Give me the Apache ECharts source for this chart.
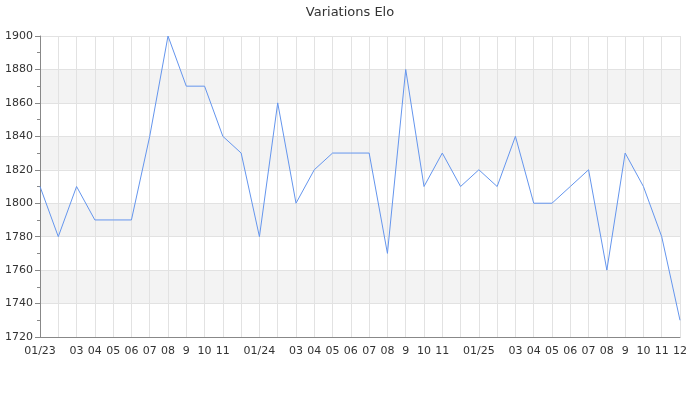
<!DOCTYPE html>
<html>
<head>
<meta charset="utf-8">
<script src="https://cdn.jsdelivr.net/npm/echarts@6/dist/echarts.min.js"></script>
<style>html,body{margin:0;padding:0;background:#fff}#c{width:700px;height:400px}</style>
</head>
<body>
<div id="c"></div>
<script>
var titleText = 'Variations Elo';
var months = ['01/23','02','03','04','05','06','07','08','9','10','11','12',
              '01/24','02','03','04','05','06','07','08','9','10','11','12',
              '01/25','02','03','04','05','06','07','08','9','10','11','12'];
var hiddenLabels = [1, 11, 13, 23, 25];
var elo = [1810,1780,1810,1790,1790,1790,1840,1900,1870,1870,1840,1830,
           1780,1860,1800,1820,1830,1830,1830,1770,1880,1810,1830,1810,
           1820,1810,1840,1800,1800,1810,1820,1760,1830,1810,1780,1730];

var chart = echarts.init(document.getElementById('c'), null, {renderer:'canvas'});
chart.setOption({
  animation: false,
  title: {text: titleText, left: 'center', top: 1,
    textStyle: {fontSize: 13, fontWeight: 'normal', color: '#333', fontFamily: 'DejaVu Sans'}},
  grid: {left: 40, right: 20, top: 36, bottom: 63, containLabel: false},
  xAxis: {
    type: 'category', data: months, boundaryGap: false,
    axisLine: {lineStyle: {color: '#888'}},
    axisTick: {show: false},
    axisLabel: {color: '#333', fontSize: 11, fontFamily: 'DejaVu Sans', margin: 9,
      interval: function(i){ return hiddenLabels.indexOf(i) < 0; }},
    splitLine: {show: true, interval: 0, lineStyle: {color: '#e2e2e2'}}
  },
  yAxis: {
    type: 'value', min: 1720, max: 1900, interval: 20,
    axisLine: {show: true, lineStyle: {color: '#888'}},
    axisTick: {show: true, length: 5, lineStyle: {color: '#888'}},
    minorTick: {show: true, splitNumber: 2, length: 3, lineStyle: {color: '#888'}},
    axisLabel: {color: '#333', fontSize: 11, fontFamily: 'DejaVu Sans', margin: 7,
      formatter: function(v){ return String(v); }},
    splitLine: {show: true, lineStyle: {color: '#e2e2e2'}},
    splitArea: {show: true, areaStyle: {color: ['rgba(255,255,255,0)', '#f3f3f3']}}
  },
  series: [{
    type: 'line', data: elo, showSymbol: false, symbol: 'none',
    lineStyle: {color: '#6495ed', width: 1}
  }]
});
</script>
</body>
</html>
